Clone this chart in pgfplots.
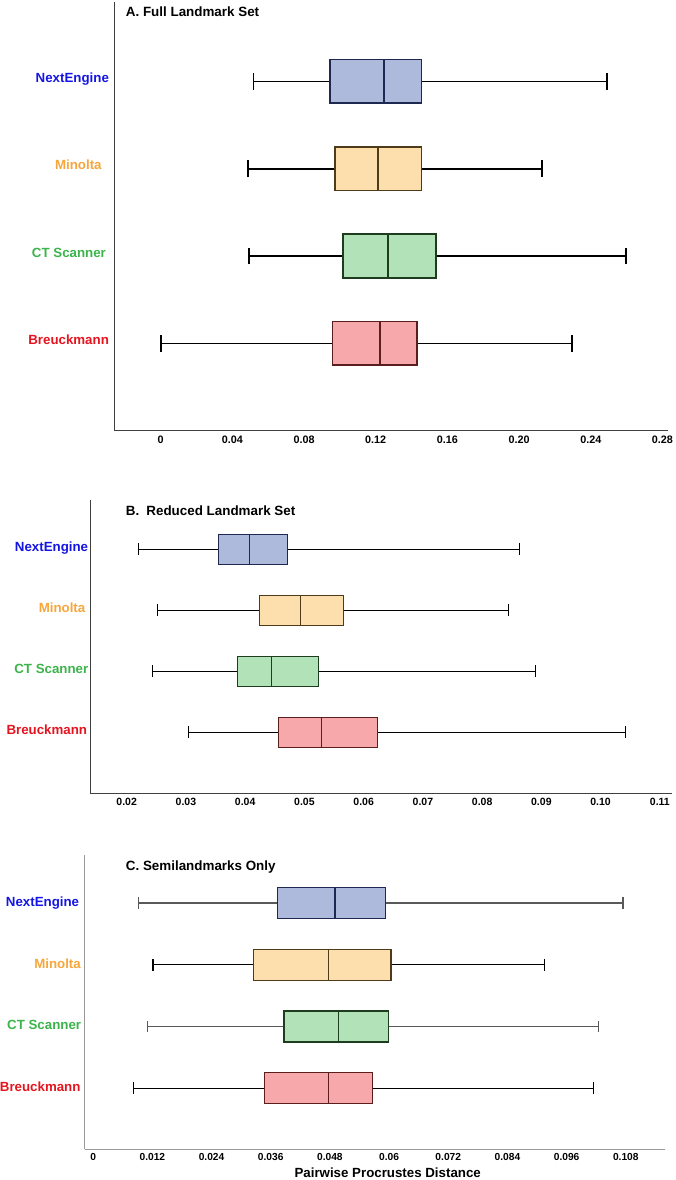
\documentclass[border=0pt]{standalone}
\usepackage{pgfplots}
\pgfplotsset{compat=1.18}
\usepgfplotslibrary{statistics}
\usepackage{fontspec}
\setmainfont{Liberation Sans}

\definecolor{fB}{RGB}{174,186,220}
\definecolor{fO}{RGB}{253,223,173}
\definecolor{fG}{RGB}{178,226,184}
\definecolor{fR}{RGB}{247,168,170}
\definecolor{eB}{RGB}{30,40,80}
\definecolor{eO}{RGB}{77,59,26}
\definecolor{eG}{RGB}{30,60,30}
\definecolor{eR}{RGB}{90,30,30}
\definecolor{cB}{RGB}{20,20,230}
\definecolor{cO}{RGB}{247,166,60}
\definecolor{cG}{RGB}{60,180,75}
\definecolor{cR}{RGB}{230,20,30}

\pgfplotsset{
  boxplot/draw direction=x,
  boxplot/box extend=0.5,
  boxplot/whisker extend=0.19,
  common/.style={
    scale only axis, anchor=south west,
    axis x line=bottom, axis y line=left,
    axis line style={-},
    major tick length=0pt,
    xtick style={draw=none}, ytick style={draw=none},
    ytick={1,2,3,4},
    x tick label style={font=\bfseries\fontsize{10.8}{12}\selectfont, anchor=base, inner sep=0pt},
    y tick label style={font=\bfseries\fontsize{13.3}{14}\selectfont, anchor=base east, inner sep=0pt},
    clip=false,
  },
  sB/.style={boxplot/every box/.style={draw=eB, fill=fB}, boxplot/every median/.style={draw=eB}},
  sO/.style={boxplot/every box/.style={draw=eO, fill=fO}, boxplot/every median/.style={draw=eO}},
  sG/.style={boxplot/every box/.style={draw=eG, fill=fG}, boxplot/every median/.style={draw=eG}},
  sR/.style={boxplot/every box/.style={draw=eR, fill=fR}, boxplot/every median/.style={draw=eR}},
}

\begin{document}
\begin{tikzpicture}
\useasboundingbox (0,0) rectangle (675pt,1180pt);

% ---------------- A ----------------
\begin{axis}[common, at={(114.3pt,749.3pt)},
  width=553.7pt, height=428.7pt,
  xmin=-0.0259, xmax=0.2831, ymin=0, ymax=4.91,
  axis line style={draw=black!75, line width=0.9pt},
  xtick={0,0.04,0.08,0.12,0.16,0.20,0.24,0.28},
  xticklabels={0,0.04,0.08,0.12,0.16,0.20,0.24,0.28},
  x tick label style={yshift=-13pt},
  y tick label style={xshift=-5.2pt, yshift=-1.2pt},
  yticklabels={{\textcolor{cR}{Breuckmann}},{\textcolor{cG}{CT Scanner}\kern3pt},{\textcolor{cO}{Minolta}\kern7.3pt},{\textcolor{cB}{NextEngine}}},
]
\addplot[draw=black, line width=1.7pt, sB, boxplot prepared={draw position=4,
  lower whisker=0.0517, lower quartile=0.0946, median=0.1246, upper quartile=0.1456, upper whisker=0.2492}] coordinates {};
\addplot[draw=black, line width=1.7pt, sO, boxplot prepared={draw position=3,
  lower whisker=0.0487, lower quartile=0.0974, median=0.1214, upper quartile=0.1456, upper whisker=0.2126}] coordinates {};
\addplot[draw=black, line width=1.7pt, sG, boxplot prepared={draw position=2,
  lower whisker=0.0494, lower quartile=0.1016, median=0.1270, upper quartile=0.1538, upper whisker=0.2597}] coordinates {};
\addplot[draw=black, line width=1.7pt, sR, boxplot prepared={draw position=1,
  lower whisker=0.0000, lower quartile=0.0958, median=0.1224, upper quartile=0.1429, upper whisker=0.2297}] coordinates {};
\end{axis}

% ---------------- B ----------------
\begin{axis}[common, at={(90.3pt,386.7pt)},
  width=582pt, height=293.3pt,
  xmin=0.01386, xmax=0.1121, ymin=0, ymax=4.808,
  axis line style={draw=black!75, line width=0.9pt},
  xtick={0.02,0.03,0.04,0.05,0.06,0.07,0.08,0.09,0.10,0.11},
  xticklabels={0.02,0.03,0.04,0.05,0.06,0.07,0.08,0.09,0.10,0.11},
  x tick label style={font=\bfseries\fontsize{10.5}{12}\selectfont, yshift=-12.1pt},
  y tick label style={xshift=-1.8pt, yshift=-2pt},
  yticklabels={{\textcolor{cR}{Breuckmann}\kern1.2pt},{\textcolor{cG}{CT Scanner}},{\textcolor{cO}{Minolta}\kern3pt},{\textcolor{cB}{NextEngine}\kern0.2pt}},
]
\addplot[draw=black, line width=1pt, sB, boxplot prepared={draw position=4,
  lower whisker=0.02208, lower quartile=0.03552, median=0.04076, upper quartile=0.04722, upper whisker=0.08625}] coordinates {};
\addplot[draw=black, line width=1pt, sO, boxplot prepared={draw position=3,
  lower whisker=0.02516, lower quartile=0.04238, median=0.04936, upper quartile=0.05662, upper whisker=0.08446}] coordinates {};
\addplot[draw=black, line width=1pt, sG, boxplot prepared={draw position=2,
  lower whisker=0.02432, lower quartile=0.03878, median=0.04447, upper quartile=0.05245, upper whisker=0.08902}] coordinates {};
\addplot[draw=black, line width=1pt, sR, boxplot prepared={draw position=1,
  lower whisker=0.03051, lower quartile=0.04558, median=0.05284, upper quartile=0.06236, upper whisker=0.10414}] coordinates {};
\end{axis}

% ---------------- C ----------------
\begin{axis}[common, at={(84.7pt,30.7pt)},
  width=580.3pt, height=294.3pt,
  xmin=-0.00172, xmax=0.11595, ymin=0.01, ymax=4.78,
  axis line style={draw=black!40, line width=1.2pt},
  xtick={0,0.012,0.024,0.036,0.048,0.06,0.072,0.084,0.096,0.108},
  xticklabels={0,0.012,0.024,0.036,0.048,0.06,0.072,0.084,0.096,0.108},
  x tick label style={font=\bfseries\fontsize{10.2}{12}\selectfont, yshift=-11.4pt},
  y tick label style={xshift=-3.4pt, yshift=-3.4pt},
  yticklabels={{\textcolor{cR}{Breuckmann}\kern0.6pt},{\textcolor{cG}{CT Scanner}},{\textcolor{cO}{Minolta}\kern0.3pt},{\textcolor{cB}{NextEngine}\kern2pt}},
]
\addplot[draw=black!65, line width=1.3pt, sB, boxplot prepared={draw position=4,
  lower whisker=0.00923, lower quartile=0.03733, median=0.04903, upper quartile=0.05931, upper whisker=0.10743}] coordinates {};
\addplot[draw=black, line width=1.3pt, sO, boxplot prepared={draw position=3,
  lower whisker=0.01213, lower quartile=0.03255, median=0.04775, upper quartile=0.06039, upper whisker=0.09155}] coordinates {};
\addplot[draw=black!65, line width=1.3pt, sG, boxplot prepared={draw position=2,
  lower whisker=0.01105, lower quartile=0.03869, median=0.04970, upper quartile=0.05992, upper whisker=0.10250}] coordinates {};
\addplot[draw=black, line width=1.3pt, sR, boxplot prepared={draw position=1,
  lower whisker=0.00813, lower quartile=0.03470, median=0.04775, upper quartile=0.05668, upper whisker=0.10141}] coordinates {};
\end{axis}

% titles and axis label
\node[anchor=base west, inner sep=0pt, font=\bfseries\fontsize{13.4}{15}\selectfont] at (125.7pt,1163.3pt) {A. Full Landmark Set};
\node[anchor=base west, inner sep=0pt, font=\bfseries\fontsize{13.4}{15}\selectfont] at (125.7pt,664pt) {B.\hspace{0.53em}Reduced Landmark Set};
\node[anchor=base west, inner sep=0pt, font=\bfseries\fontsize{13.4}{15}\selectfont] at (125.7pt,309.3pt) {C. Semilandmarks Only};
\node[anchor=base, inner sep=0pt, font=\bfseries\fontsize{13.3}{15}\selectfont] at (387.7pt,2.2pt) {Pairwise Procrustes Distance};
\end{tikzpicture}
\end{document}
